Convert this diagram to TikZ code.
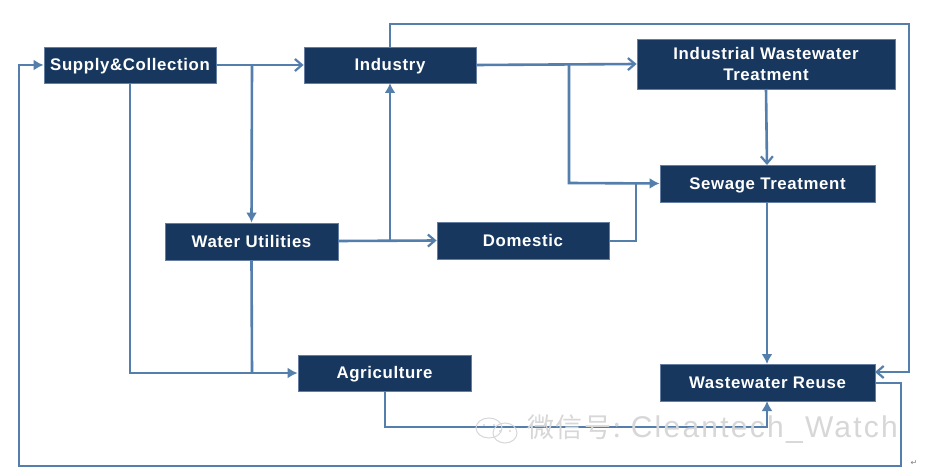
\documentclass[tikz,border=0pt]{standalone}
\usepackage{fontspec}
\setmainfont{Liberation Sans}
\newfontfamily\cjkwm[LetterSpace=6]{Noto Sans CJK SC}
\newfontfamily\latinwm[LetterSpace=7.5]{Liberation Sans}
\newfontfamily\symb{DejaVu Sans}
\newfontfamily\spaced[LetterSpace=3.8]{Liberation Sans}
\usetikzlibrary{arrows.meta,calc}
\definecolor{boxnavy}{RGB}{23,55,94}
\definecolor{boxedge}{RGB}{100,125,160}
\definecolor{linkblue}{RGB}{84,126,172}
\definecolor{wmgray}{RGB}{215,215,215}
\tikzset{
  x=1pt,y=-1pt,
  procbox/.style={draw=boxedge,line width=0.8pt,fill=boxnavy,text=white,align=center,inner sep=0pt,
    font=\spaced\bfseries\fontsize{16.8}{21}\selectfont},
  link/.style={draw=linkblue,line width=2.6pt,-{Straight Barb[length=7pt,width=12pt,line width=2.2pt]}},
  solidlink/.style={draw=linkblue,line width=2.6pt,-{Latex[length=10pt,width=11pt]}},
  plainlink/.style={draw=linkblue,line width=2.6pt},
  wm/.style={text=wmgray,inner sep=0pt,anchor=west},
}
\newcommand{\boxat}[6]{\node[procbox,minimum width=#4pt-#2pt,minimum height=#5pt-#3pt] (#1) at ({(#2+#4)/2},{(#3+#5)/2}) {#6};}
\newcommand{\sline}{\rule{0pt}{15.5pt}\vphantom{g}}
\begin{document}
\begin{tikzpicture}
\useasboundingbox (0,0) rectangle (926,476);
\fill[white] (0,0) rectangle (926,476);
% junctions and free bends
\coordinate (j1) at (252,65);
\coordinate (j2) at (390,241);
\coordinate (j3) at (569,65);
\coordinate (j4) at (636,183);
\coordinate (j5) at (252,373);
\boxat{supply}{44}{47}{216}{83}{\sline Supply\&Collection}
\boxat{industry}{304}{47}{476}{83}{\sline Industry}
\boxat{iwt}{637}{39}{895}{89}{\vphantom{Ag}Industrial Wastewater\\Treatment}
\boxat{sewage}{660}{165}{875}{202}{\sline Sewage Treatment}
\boxat{utilities}{165}{223}{338}{260}{\sline Water Utilities}
\boxat{domestic}{437}{222}{609}{259}{\sline Domestic}
\boxat{agri}{298}{355}{471}{391}{\sline Agriculture}
\boxat{reuse}{660}{364}{875}{401}{\sline Wastewater Reuse}
% connectors
\draw[link] (supply.east) -- (industry.west);
\draw[solidlink] (j1) -- (utilities.north);
\draw[solidlink] (130,83) -- (130,373) -- (agri.west);
\draw[plainlink] (utilities.south) -- (j5);
\draw[link] (338,241) -- (domestic.west);
\draw[solidlink] (j2) -- (390,83);
\draw[link] (industry.east) -- (iwt.west);
\draw[solidlink] (j3) -- (569,183) -- (sewage.west);
\draw[plainlink] (609,241) -- (636,241) -- (j4);
\draw[link] (766,89) -- (767,165);
\draw[solidlink] (767,202) -- (767,364);
\draw[solidlink] (385,391) -- (385,427) -- (767,427) -- (767,401);
\draw[solidlink] (875,383) -- (901,383) -- (901,466) -- (19,466) -- (19,65) -- (supply.west);
\draw[link] (390,47) -- (390,24) -- (909,24) -- (909,372) -- (875,372);
% watermark
\begin{scope}[draw=wmgray,line width=1pt,fill=white]
\draw (489,428) ellipse (13 and 10);
\draw (505,433) ellipse (12 and 10);
\fill[wmgray] (484,425) circle (1.2) (494,425) circle (1.2) (500,431) circle (1.2) (510,431) circle (1.2);
\end{scope}
\node[wm] (wmtext) at (527,429) {\cjkwm\fontsize{27}{30}\selectfont 微信号: \latinwm\fontsize{30}{30}\selectfont Cleantech\_Watch};
\node[inner sep=0pt,text=gray] (ret) at (914,463) {\symb\fontsize{8}{8}\selectfont ↵};
\end{tikzpicture}
\end{document}
